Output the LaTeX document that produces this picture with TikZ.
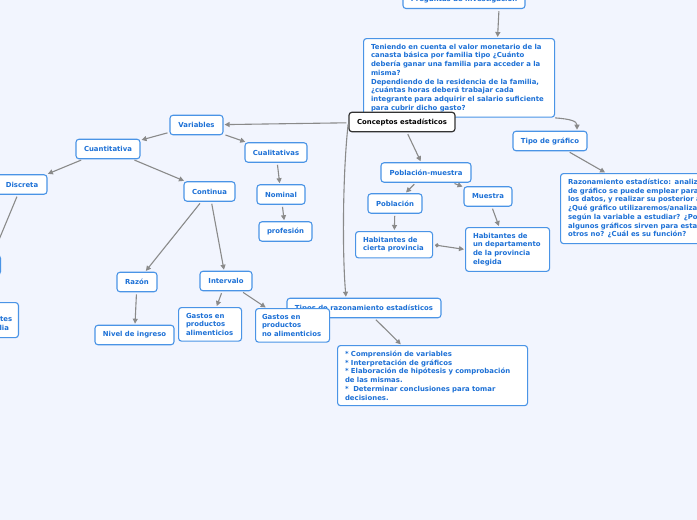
\documentclass[tikz,border=0pt]{standalone}
\usepackage{fontspec}
\setmainfont{DejaVu Sans}
\usetikzlibrary{arrows.meta}
\definecolor{mapbg}{RGB}{242,245,254}
\definecolor{mapblue}{RGB}{74,148,230}
\definecolor{maptext}{RGB}{28,112,214}
\definecolor{mapgray}{RGB}{138,138,138}
\hyphenpenalty=10000
\begin{document}
\begin{tikzpicture}[x=1pt,y=-1pt,
    font=\fontsize{6.9}{8.7}\selectfont\bfseries,
    box/.style={draw=mapblue,line width=1.1pt,fill=white,rounded corners=3pt,text=maptext,
      minimum height=19.5pt,inner xsep=5pt,inner ysep=4pt},
    note/.style={box,align=left,text width=#1,inner xsep=7.5pt,inner ysep=5.5pt,anchor=north west},
    arr/.style={draw=mapgray,line width=1.1pt,-{Triangle[length=5pt,width=5pt]},
      shorten <=2pt,shorten >=1pt}]
  \fill[mapbg] (0,0) rectangle (697,520);
  \useasboundingbox (0,0) rectangle (697,520);
  \clip (0,0) rectangle (697,520);
  % question branch
  \node[box,minimum width=122pt,minimum height=18pt] (preg) at (464,-0.5) {Preguntas de investigación};
  \node[note=176pt] (question) at (363,38) {Teniendo en cuenta el valor monetario de la\\
    canasta básica por familia tipo ¿Cuánto\\debería ganar una familia para acceder a la\\
    misma?\\Dependiendo de la residencia de la familia,\\¿cuántas horas deberá trabajar cada\\
    integrante para adquirir el salario suficiente\\para cubrir dicho gasto?};
  \node[box,draw=black!80,line width=1.2pt,text=black,minimum width=106pt] (concept) at (402,122) {Conceptos estadísticos};
  % variables
  \node[box,minimum width=53pt] (variables) at (196.5,125) {Variables};
  \node[box,minimum width=64pt] (cuanti) at (108,149) {Cuantitativa};
  \node[box,minimum width=62pt] (cuali) at (276,152.5) {Cualitativas};
  \node[box,minimum width=50pt] (discreta) at (22,184.5) {Discreta};
  \node[box,minimum width=51pt] (continua) at (209.5,191.5) {Continua};
  \node[box,minimum width=48pt] (nominal) at (281,194.5) {Nominal};
  \node[box,minimum width=53pt] (profesion) at (285.5,231.5) {profesión};
  \node[box,minimum width=40pt] (razon) at (137,282) {Razón};
  \node[box,minimum width=52pt] (intervalo) at (226,281) {Intervalo};
  \node[box,minimum width=79pt] (nivel) at (134.5,335) {Nivel de ingreso};
  \node[box,minimum width=24pt,anchor=east] (sliver) at (1,265) {};
  \node[note=44pt,anchor=north east] (leftnote) at (19,302) {Total de\\integrantes\\por familia};
  % razonamiento
  \node[box,minimum width=154pt] (tipos) at (364,308) {Tipos de razonamiento estadísticos};
  \node[note=48pt] (gastosa) at (178,307) {Gastos en\\productos\\alimenticios};
  \node[note=61pt,inner xsep=6.5pt] (gastosn) at (255,308) {Gastos en\\productos\\no alimenticios};
  \node[note=175pt] (bullets) at (337,345) {* Comprensión de variables\\{}* Interpretación de gráficos\\{}
    * Elaboración de hipótesis y comprobación\\de las mismas.\\{}*~ Determinar conclusiones para tomar\\decisiones.};
  % poblacion y muestra
  \node[box,minimum width=90pt] (pobmu) at (426,172.5) {Población-muestra};
  \node[box,minimum width=54pt] (poblacion) at (395,203.5) {Población};
  \node[box,minimum width=48pt] (muestra) at (488,196.5) {Muestra};
  \node[note=62pt] (habc) at (355,231) {Habitantes de\\cierta provincia};
  \node[note=69pt] (habd) at (465,227) {Habitantes de\\un departamento\\de la provincia\\elegida};
  % graficos
  \node[box,minimum width=74pt] (tipo) at (550,141) {Tipo de gráfico};
  \node[note=200pt] (razest) at (560,173) {Razonamiento estadístico: analizar qué tipo\\
    de gráfico se puede emplear para organizar\\los datos, y realizar su posterior análisis.\\
    ¿Qué gráfico utilizaremos/analizaremos\\según la variable a estudiar? ¿Por qué\\
    algunos gráficos sirven para estas y\\otros no? ¿Cuál es su función?};
  % connectors
  \foreach \a/\b in {concept/variables, variables/cuanti, variables/cuali, cuanti/discreta,
      cuanti/continua, cuali/nominal, nominal/profesion, continua/razon, continua/intervalo,
      razon/nivel, intervalo/gastosa, intervalo/gastosn, discreta/sliver, tipos/bullets,
      concept/pobmu, pobmu/poblacion, pobmu/muestra, poblacion/habc, muestra/habd, tipo/razest}
    { \draw[arr] (\a) -- (\b); }
  \draw[arr] ([xshift=35pt]preg.south) -- ([xshift=38.5pt]question.north);
  \draw[arr] (concept.west) .. controls (343,170) and (342,250) .. ([xshift=-18pt]tipos.north);
  \draw[arr] ([xshift=-2pt]question.south east) .. controls (570,119) and (577,121) .. ([xshift=27pt]tipo.north);
  \draw[arr,{Circle[length=4pt]}-{Triangle[length=5pt,width=5pt]}] (habc.east) -- (habd.west);
\end{tikzpicture}
\end{document}
